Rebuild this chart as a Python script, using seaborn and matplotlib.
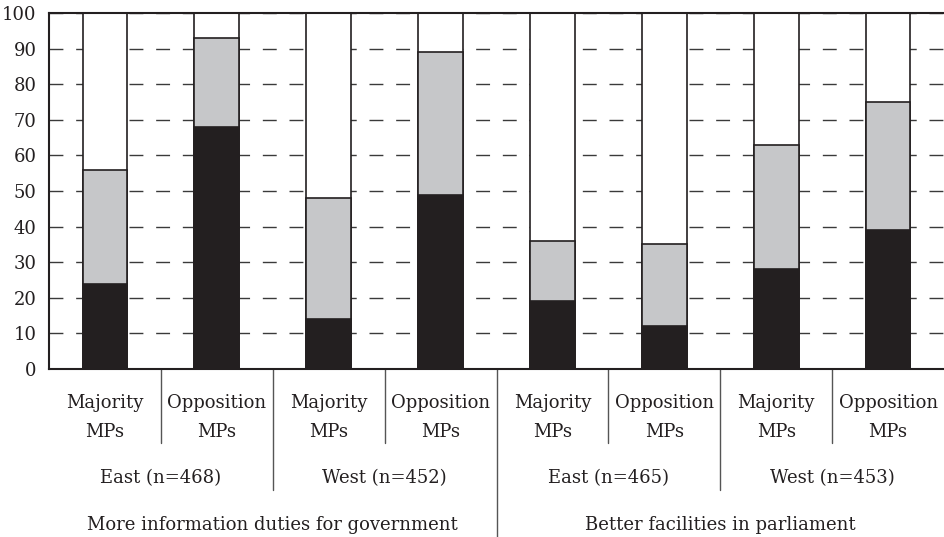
import matplotlib
matplotlib.use("Agg")
import matplotlib.pyplot as plt
import matplotlib.transforms as mtransforms
import seaborn as sns
import pandas as pd
import numpy as np

# ---- data ----
bar_ids = ["E1_maj", "E1_opp", "W1_maj", "W1_opp", "E2_maj", "E2_opp", "W2_maj", "W2_opp"]
mp_labels = ["Majority", "Opposition", "Majority", "Opposition",
             "Majority", "Opposition", "Majority", "Opposition"]
region_labels = ["East (n=468)", "West (n=452)", "East (n=465)", "West (n=453)"]
topic_labels = ["More information duties for government", "Better facilities in parliament"]
black_vals = [24, 68, 14, 49, 19, 12, 28, 39]
gray_vals = [32, 25, 34, 40, 17, 23, 35, 36]
total_vals = [100, 100, 100, 100, 100, 100, 100, 100]

df = pd.DataFrame({
    "bar": bar_ids,
    "black": black_vals,
    "gray_top": np.array(black_vals) + np.array(gray_vals),
    "total": total_vals,
})

sns.set_style("white")
plt.rcParams["font.family"] = ["DejaVu Serif"]
plt.rcParams["font.size"] = 13

W, H = 944, 537
fig = plt.figure(figsize=(W / 100, H / 100), dpi=100)
ax = fig.add_axes([49 / W, 1 - 369 / H, (944 - 49) / W, (369 - 13) / H])

edge = "#231f20"
common = dict(data=df, x="bar", order=bar_ids, width=0.4, edgecolor=edge,
              linewidth=1.2, ax=ax, saturation=1)
sns.barplot(y="total", color="white", **common)
sns.barplot(y="gray_top", color="#c6c7c9", **common)
sns.barplot(y="black", color="#231f20", **common)

ax.set_xlim(-0.5, 7.5)
ax.set_ylim(0, 100)
ax.set_yticks(range(0, 101, 10))
ax.set_xticks([])
ax.set_xlabel("")
ax.set_ylabel("")
ax.tick_params(axis="y", length=0, pad=9, labelsize=13, colors="#231f20")
ax.set_axisbelow(True)
ax.yaxis.grid(True, color="#3a3a3a", linewidth=1, linestyle=(0, (10, 9.2)))
ax.xaxis.grid(False)
for s in ["left", "top", "bottom"]:
    ax.spines[s].set_color(edge)
    ax.spines[s].set_linewidth(1.5)
ax.spines["right"].set_visible(False)

trans = mtransforms.blended_transform_factory(ax.transData, fig.transFigure)
def fy(px):
    return 1 - px / H

tc = "#231f20"
for i, lab in enumerate(mp_labels):
    ax.text(i, fy(408), lab, transform=trans, ha="center", va="baseline", fontsize=13, color=tc)
    ax.text(i, fy(437), "MPs", transform=trans, ha="center", va="baseline", fontsize=13, color=tc)
for j, lab in enumerate(region_labels):
    ax.text(2 * j + 0.5, fy(483), lab, transform=trans, ha="center", va="baseline", fontsize=13, color=tc)
for k, lab in enumerate(topic_labels):
    ax.text(4 * k + 1.5, fy(530), lab, transform=trans, ha="center", va="baseline", fontsize=13, color=tc)

sep_col = "#555555"
for x in [0.5, 2.5, 4.5, 6.5]:
    ax.plot([x, x], [fy(369), fy(443)], transform=trans, color=sep_col, lw=1, clip_on=False)
for x in [1.5, 5.5]:
    ax.plot([x, x], [fy(369), fy(490)], transform=trans, color=sep_col, lw=1, clip_on=False)
ax.plot([3.5, 3.5], [fy(369), fy(537)], transform=trans, color=sep_col, lw=1, clip_on=False)

fig.savefig("out.png", dpi=100)
